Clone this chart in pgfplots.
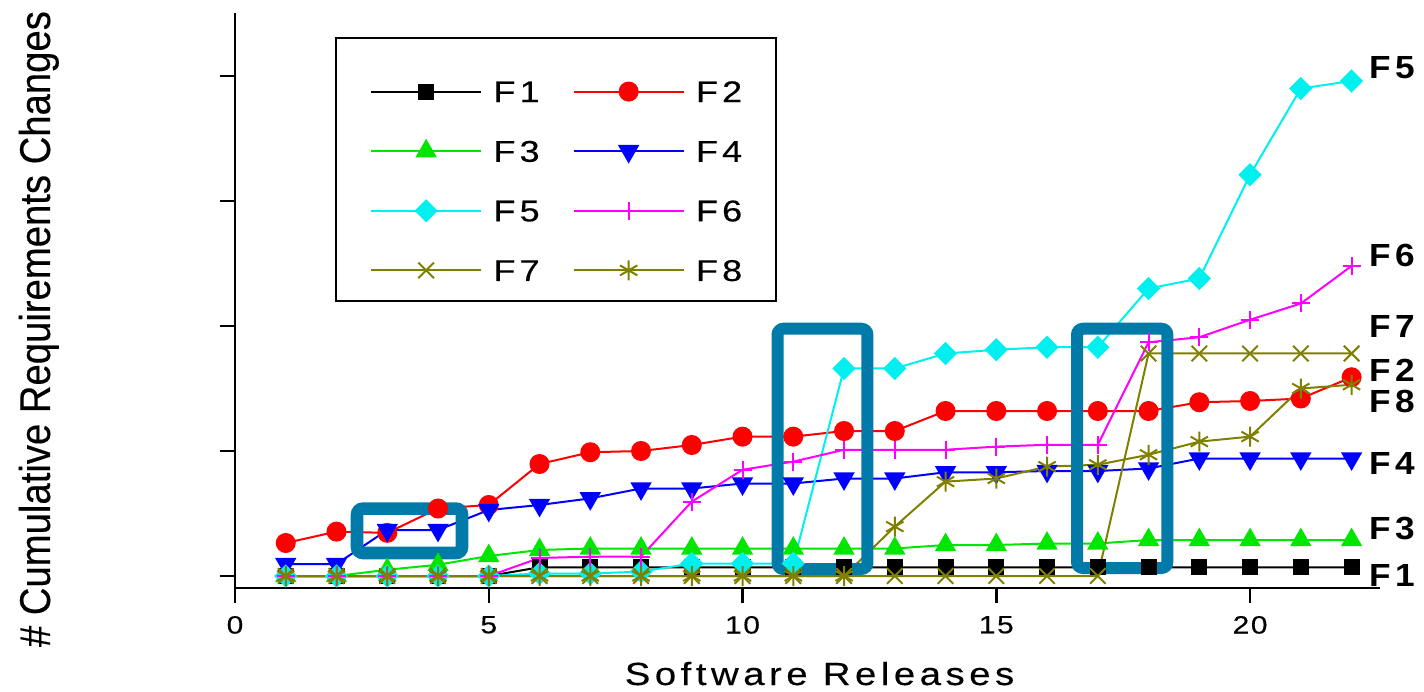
\documentclass[border=0pt]{standalone}
\usepackage{fontspec}
\setmainfont{Liberation Sans}
\newfontfamily\xfont{Liberation Sans}[FakeStretch=1.2,LetterSpace=14,FakeBold=0.3]
\newfontfamily\tfont{Liberation Sans}[FakeStretch=1.2,LetterSpace=6,FakeBold=0.3]
\newfontfamily\lgfont{Liberation Sans}[FakeStretch=1.2,LetterSpace=14,FakeBold=0.3]
\newfontfamily\rfont{Liberation Sans Bold}[FakeStretch=1.1,LetterSpace=14]
\newfontfamily\yfont{Liberation Sans}[FakeStretch=0.89,FakeBold=0.3]
\usepackage{pgfplots}
\pgfplotsset{compat=1.18}
\definecolor{boxc}{RGB}{0,122,168}
\definecolor{pgreen}{RGB}{0,230,0}
\definecolor{pcyan}{RGB}{0,240,240}
\definecolor{pmag}{RGB}{255,0,255}
\definecolor{polive}{RGB}{128,128,0}
\begin{document}
\begin{tikzpicture}
\begin{axis}[
  scale only axis, width=572.5pt, height=287.5pt,
  xmin=0, xmax=22.56, ymin=-0.96, ymax=45.04,
  axis x line*=bottom, axis y line*=left,
  axis line style={line width=1.2pt, -},
  xtick={0,5,10,15,20}, xticklabels={0,5,10,15,20},
  ytick={0,10,20,30,40}, yticklabels={},
  tick align=outside, major tick length=7.5pt,
  tick style={line width=1.2pt, black},
  xticklabel style={font=\tfont\fontsize{12.5}{12.5}\selectfont, anchor=north, yshift=-3pt},
  xlabel={Software Releases},
  xlabel style={font=\xfont\fontsize{16}{16}\selectfont, at={(axis description cs:0.5105,-0.1687)}, anchor=base},
  ylabel={\# Cumulative Requirements Changes},
  ylabel style={font=\yfont\fontsize{21.5}{21.5}\selectfont, at={(axis description cs:-0.1616,0.4504)}, anchor=base, rotate=0},
  clip=false,
  legend columns=2,
  legend image code/.code={\draw[mark repeat=2, mark phase=2, yshift=5.3pt, #1] plot coordinates {(0pt,0pt) (27.5pt,0pt) (55pt,0pt)};},
  legend style={at={(axis description cs:0.0873,0.9583)}, anchor=north west,
    draw=black, line width=1.2pt, inner xsep=17pt, inner ysep=10pt,
    font=\lgfont\fontsize{15}{15}\selectfont,
    cells={anchor=base west},
    nodes={inner sep=0pt, text height=22pt, text depth=0pt},
    row sep=7.8pt,
    /tikz/every odd column/.append style={column sep=5.65pt},
    /tikz/every even column/.append style={column sep=16.5pt}},
]
\addplot[black, line width=1pt, mark=square*, mark size=3.5pt] coordinates {
(1,0) (2,0) (3,0) (4,0) (5,0) (6,0.7) (7,0.7) (8,0.7) (9,0.7) (10,0.7) (11,0.7)
(12,0.7) (13,0.7) (14,0.7) (15,0.7) (16,0.7) (17,0.7) (18,0.7) (19,0.7) (20,0.7) (21,0.7) (22,0.7)};
\addlegendentry{F1}
\addplot[red, line width=1pt, mark=*, mark size=4.5pt] coordinates {
(1,2.64) (2,3.55) (3,3.45) (4,5.4) (5,5.68) (6,8.96) (7,9.9) (8,10.0) (9,10.48) (10,11.15) (11,11.15)
(12,11.6) (13,11.6) (14,13.2) (15,13.2) (16,13.2) (17,13.2) (18,13.2) (19,13.9) (20,14.0) (21,14.2) (22,15.9)};
\addlegendentry{F2}
\addplot[pgreen, line width=1pt, mark=triangle*, mark size=5.2pt] coordinates {
(1,0) (2,0) (3,0.5) (4,0.9) (5,1.6) (6,2.08) (7,2.2) (8,2.2) (9,2.2) (10,2.2) (11,2.2)
(12,2.2) (13,2.2) (14,2.48) (15,2.48) (16,2.6) (17,2.6) (18,2.88) (19,2.88) (20,2.88) (21,2.88) (22,2.88)};
\addlegendentry{F3}
\addplot[blue, line width=1pt, mark=triangle*, mark size=5.2pt, mark options={rotate=180}] coordinates {
(1,0.96) (2,0.96) (3,3.68) (4,3.68) (5,5.28) (6,5.68) (7,6.21) (8,7.0) (9,7.0) (10,7.4) (11,7.4)
(12,7.8) (13,7.8) (14,8.3) (15,8.3) (16,8.4) (17,8.4) (18,8.6) (19,9.4) (20,9.4) (21,9.4) (22,9.4)};
\addlegendentry{F4}
\addplot[pcyan, line width=1pt, mark=square*, mark size=3.6pt, mark options={rotate=45}] coordinates {
(1,0) (2,0) (3,0) (4,0) (5,0) (6,0.2) (7,0.2) (8,0.35) (9,1.0) (10,1.0) (11,1.0)
(12,16.6) (13,16.6) (14,17.8) (15,18.1) (16,18.3) (17,18.3) (18,23.0) (19,23.8) (20,32.1) (21,39.0) (22,39.6)};
\addlegendentry{F5}
\addplot[pmag, line width=1pt, mark=+, mark size=4.5pt] coordinates {
(1,0) (2,0) (3,0) (4,0) (5,0) (6,1.44) (7,1.55) (8,1.55) (9,5.95) (10,8.5) (11,9.15)
(12,10.1) (13,10.1) (14,10.1) (15,10.35) (16,10.5) (17,10.5) (18,18.7) (19,19.1) (20,20.5) (21,21.8) (22,24.8)};
\addlegendentry{F6}
\addplot[polive, line width=1pt, mark=x, mark size=5.5pt] coordinates {
(1,0) (2,0) (3,0) (4,0) (5,0) (6,0) (7,0) (8,0) (9,0) (10,0) (11,0)
(12,0) (13,0) (14,0) (15,0) (16,0) (17,0) (18,17.8) (19,17.8) (20,17.8) (21,17.8) (22,17.8)};
\addlegendentry{F7}
\addplot[polive, line width=1pt, mark=asterisk, mark size=5pt] coordinates {
(1,0) (2,0) (3,0) (4,0) (5,0) (6,0) (7,0) (8,0) (9,0) (10,0) (11,0)
(12,0) (13,3.95) (14,7.55) (15,7.8) (16,8.75) (17,8.9) (18,9.7) (19,10.75) (20,11.15) (21,15.0) (22,15.3)};
\addlegendentry{F8}
\draw[boxc, line width=6.3pt, rounded corners=3pt] (axis cs:2.404,5.39) rectangle (axis cs:4.473,1.84);
\draw[boxc, line width=6pt, rounded corners=3pt] (axis cs:10.69,19.78) rectangle (axis cs:12.46,0.56);
\draw[boxc, line width=6pt, rounded corners=3pt] (axis cs:16.59,19.78) rectangle (axis cs:18.37,0.64);
\begin{scope}[every node/.style={anchor=west, inner sep=0pt, font=\rfont\fontsize{16}{16}\selectfont}]
\node at (axis cs:22.34,40.64) {F5};
\node at (axis cs:22.34,25.68) {F6};
\node at (axis cs:22.34,19.96) {F7};
\node at (axis cs:22.34,16.46) {F2};
\node at (axis cs:22.34,13.98) {F8};
\node at (axis cs:22.34,9.0) {F4};
\node at (axis cs:22.34,3.8) {F3};
\node at (axis cs:22.34,0.08) {F1};
\end{scope}
\coordinate (O) at (rel axis cs:0,0);
\end{axis}
\pgfresetboundingbox
\path[use as bounding box] ([shift={(-117.5pt,-51.5pt)}]O) rectangle ([shift={(594.5pt,294pt)}]O);
\end{tikzpicture}
\end{document}
